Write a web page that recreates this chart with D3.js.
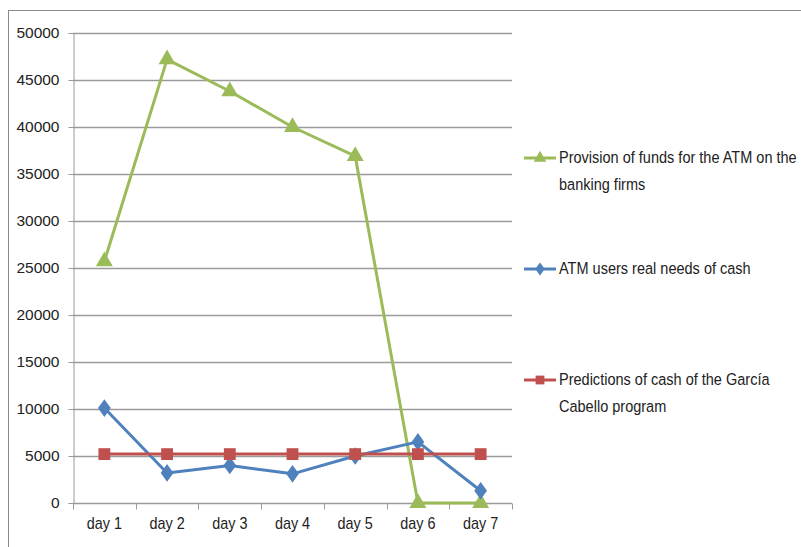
<!DOCTYPE html>
<html>
<head>
<meta charset="utf-8">
<script src="https://cdn.jsdelivr.net/npm/d3@7"></script>
<style>
  html, body { margin: 0; padding: 0; background: #fff; }
  svg text { font-family: "Liberation Sans", Arial, sans-serif; fill: #222; }
</style>
</head>
<body>
<svg id="chart" width="801" height="547"></svg>
<script>
// Daily cash figures for the ATM
const days = ["day 1", "day 2", "day 3", "day 4", "day 5", "day 6", "day 7"];
const provisionFunds = [25700, 47200, 43800, 40000, 36900, 0, 0];
const realNeeds = [10100, 3200, 4000, 3100, 5000, 6500, 1300];
const predictions = [5200, 5200, 5200, 5200, 5200, 5200, 5200];
const yTicks = [0, 5000, 10000, 15000, 20000, 25000, 30000, 35000, 40000, 45000, 50000];

const series = [
  { name: ["Provision of funds for the ATM on the", "banking firms"], values: provisionFunds, color: "#9BBB59", marker: "triangle", legendY: 158 },
  { name: ["ATM users real needs of cash"], values: realNeeds, color: "#4F81BD", marker: "diamond", legendY: 269 },
  { name: ["Predictions of cash of the García", "Cabello program"], values: predictions, color: "#C0504D", marker: "square", legendY: 380 }
];

const svg = d3.select("#chart");

// outer chart frame
svg.append("rect").attr("x", 8.5).attr("y", 10.5).attr("width", 800).attr("height", 545)
  .attr("fill", "none").attr("stroke", "#8a8a8a").attr("stroke-width", 1);

const plot = { left: 73, right: 512, top: 33, bottom: 503 };

const x = d3.scaleBand().domain(days).range([plot.left, plot.right]);
const y = d3.scaleLinear().domain([0, 50000]).range([plot.bottom, plot.top]);

// horizontal gridlines
svg.append("g").selectAll("line").data(yTicks.filter(d => d > 0)).join("line")
  .attr("x1", plot.left).attr("x2", plot.right)
  .attr("y1", d => Math.round(y(d)) + 0.5).attr("y2", d => Math.round(y(d)) + 0.5)
  .attr("stroke", "#9a9a9a").attr("stroke-width", 1.3);

// y axis
const yAxis = svg.append("g").attr("transform", `translate(${plot.left + 0.5},0)`)
  .call(d3.axisLeft(y).tickValues(yTicks).tickSize(5).tickFormat(d3.format("d")));
yAxis.select(".domain").attr("stroke", "#9a9a9a");
yAxis.selectAll(".tick line").attr("stroke", "#9a9a9a");
yAxis.selectAll("text").attr("x", -14).style("font-size", "15.5px");

// x axis with tick marks between categories
const xAxis = svg.append("g").attr("transform", `translate(0,${plot.bottom + 0.5})`);
xAxis.append("line").attr("x1", plot.left).attr("x2", plot.right)
  .attr("stroke", "#9a9a9a").attr("stroke-width", 1.3);
const bounds = d3.range(days.length + 1).map(i => plot.left + i * x.step());
xAxis.selectAll(".sep").data(bounds).join("line").attr("class", "sep")
  .attr("x1", d => Math.round(d) + 0.5).attr("x2", d => Math.round(d) + 0.5)
  .attr("y1", 0).attr("y2", 6).attr("stroke", "#9a9a9a");
xAxis.selectAll("text").data(days).join("text")
  .attr("transform", d => `translate(${x(d) + x.bandwidth() / 2},25) scale(0.9,1)`)
  .attr("text-anchor", "middle").style("font-size", "16px").text(d => d);

const cx = d => x(d) + x.bandwidth() / 2;

function drawMarker(g, type, color, size) {
  if (type === "triangle") {
    g.append("path").attr("d", d3.symbol(d3.symbolTriangle, size * 1.25)()).attr("fill", color);
  } else if (type === "diamond") {
    g.append("path").attr("d", d3.symbol(d3.symbolDiamond, size * 0.9)()).attr("fill", color)
      .attr("transform", "scale(1.25,1)");
  } else {
    g.append("path").attr("d", d3.symbol(d3.symbolSquare, size * 1.4)()).attr("fill", color);
  }
}

const line = d3.line().x((d, i) => cx(days[i])).y(d => y(d));

series.forEach(s => {
  svg.append("path").datum(s.values).attr("d", line)
    .attr("fill", "none").attr("stroke", s.color).attr("stroke-width", 3)
    .attr("stroke-linejoin", "round");
  s.values.forEach((v, i) => {
    const g = svg.append("g").attr("transform", `translate(${cx(days[i])},${y(v)})`);
    drawMarker(g, s.marker, s.color, 100);
  });

  // legend entry
  const lg = svg.append("g").attr("transform", `translate(0,${s.legendY})`);
  lg.append("line").attr("x1", 524).attr("x2", 556).attr("y1", 0).attr("y2", 0)
    .attr("stroke", s.color).attr("stroke-width", 3);
  const mg = lg.append("g").attr("transform", "translate(540,0)");
  drawMarker(mg, s.marker, s.color, 55);
  s.name.forEach((t, j) => {
    lg.append("text").attr("transform", `translate(559,${j * 27 + 5}) scale(0.88,1)`)
      .style("font-size", "16.5px").text(t);
  });
});
</script>
</body>
</html>
